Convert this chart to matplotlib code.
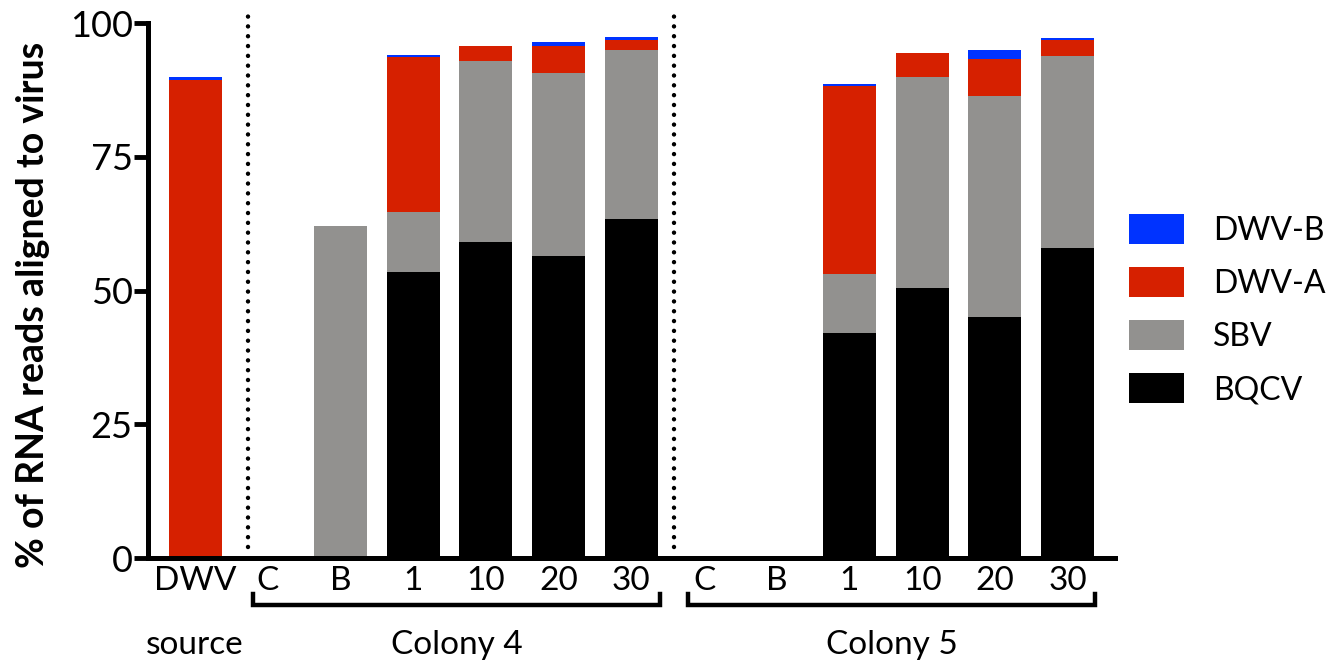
import matplotlib
matplotlib.use("Agg")
import matplotlib.pyplot as plt
import numpy as np

plt.rcParams['font.family'] = ['Lato', 'DejaVu Sans']

# bar labels (left to right)
tick_labels = ["DWV", "C", "B", "1", "10", "20", "30", "C", "B", "1", "10", "20", "30"]

# % of reads per virus (segment heights)
bqcv = [0, 0, 0, 53.4, 59.0, 56.4, 63.4, 0, 0, 42.1, 50.4, 45.0, 57.9]
sbv = [0, 0, 62.1, 11.3, 33.9, 34.2, 31.5, 0, 0, 11.0, 39.5, 41.3, 36.0]
dwva = [89.4, 0, 0, 28.9, 2.8, 5.15, 2.0, 0, 0, 35.1, 4.5, 6.95, 2.85]
dwvb = [0.6, 0, 0, 0.4, 0, 0.65, 0.5, 0, 0, 0.4, 0, 1.65, 0.45]

series_names = ["BQCV", "SBV", "DWV-A", "DWV-B"]
series_colors = ["#000000", "#92918f", "#d62000", "#0033ff"]

groups = ["Colony 4", "Colony 5"]

fig = plt.figure(figsize=(13.32, 6.67), dpi=100)
ax = fig.add_axes([0.111, 0.1634, 0.726, 0.8021])

x = np.arange(len(tick_labels))
bottom = np.zeros(len(x))
handles = []
for vals, name, col in zip([bqcv, sbv, dwva, dwvb], series_names, series_colors):
    vals = np.array(vals)
    b = ax.bar(x, vals, 0.73, bottom=bottom, color=col, label=name, linewidth=0)
    handles.append(b)
    bottom = bottom + vals

ax.set_ylim(0, 100)
ax.set_xlim(-0.65, 12.65)
ax.set_yticks([0, 25, 50, 75, 100])
ax.set_xticks(x)
ax.set_xticklabels(tick_labels)
ax.tick_params(axis='y', labelsize=26, width=3.5, length=10, pad=1)
ax.tick_params(axis='x', labelsize=24, length=0, pad=6)
for s in ["top", "right"]:
    ax.spines[s].set_visible(False)
for s in ["left", "bottom"]:
    ax.spines[s].set_linewidth(3.6)
    ax.spines[s].set_capstyle('projecting')

ax.set_ylabel("% of RNA reads aligned to virus", fontsize=27, fontweight='bold')
ax.yaxis.set_label_coords(-0.101, 0.473)

# dotted separators
trans = ax.get_xaxis_transform()
for xs in [0.73, 6.58]:
    ax.plot([xs, xs], [0.02, 1.03], transform=trans, color='black', lw=3.2,
            linestyle=(0, (0.01, 2.2)), dash_capstyle='round', clip_on=False)

# group brackets
spans = [(0.80, 6.40), (6.78, 12.38)]
for (x0, x1), g in zip(spans, groups):
    ax.plot([x0, x0, x1, x1], [-0.068, -0.088, -0.088, -0.068], transform=trans,
            color='black', lw=3.2, clip_on=False, solid_joinstyle='miter')
    ax.text((x0 + x1) / 2, -0.163, g, transform=trans, ha='center', va='center', fontsize=24)
ax.text(0, -0.163, "source", transform=trans, ha='center', va='center', fontsize=24)

leg = fig.legend(handles[::-1], series_names[::-1], loc='center left',
                 bbox_to_anchor=(0.8476, 0.536), frameon=False, fontsize=23,
                 handlelength=1.72, handleheight=1.08, labelspacing=0.66,
                 handletextpad=0.9, borderpad=0, borderaxespad=0)

fig.savefig("out.png", dpi=100)
